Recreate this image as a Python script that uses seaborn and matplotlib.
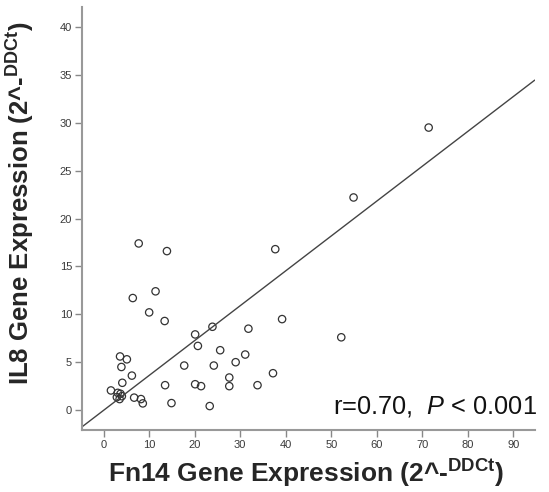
import matplotlib
matplotlib.use("Agg")
import matplotlib.pyplot as plt
import seaborn as sns
import numpy as np
import pandas as pd

# values
fn14 = [7.7, 13.9, 37.7, 11.4, 6.4, 10.0, 13.4, 39.2, 71.4, 54.9, 52.2,
        20.1, 23.9, 31.8, 20.7, 25.6, 31.1, 29.0, 17.7, 24.2, 37.2, 27.6,
        27.6, 33.8, 20.1, 21.4, 13.5, 14.9, 23.3, 3.6, 5.1, 3.9, 6.2, 4.1,
        1.6, 6.7, 8.2, 8.6, 3.1, 3.7, 2.9, 3.5, 4.0]
il8 = [17.4, 16.6, 16.8, 12.4, 11.7, 10.2, 9.3, 9.5, 29.5, 22.2, 7.6,
       7.9, 8.7, 8.5, 6.7, 6.25, 5.8, 5.0, 4.65, 4.65, 3.85, 3.4,
       2.5, 2.6, 2.7, 2.5, 2.6, 0.73, 0.42, 5.6, 5.3, 4.5, 3.6, 2.85,
       2.05, 1.3, 1.15, 0.7, 1.8, 1.7, 1.35, 1.15, 1.45]
# fit line as drawn in the reference (slope / intercept)
fit_slope = 0.364
fit_intercept = -0.02
x_ticks = [0, 10, 20, 30, 40, 50, 60, 70, 80, 90]
y_ticks = [0, 5, 10, 15, 20, 25, 30, 35, 40]
stat_text = r"r=0.70,  $P$ < 0.001"

df = pd.DataFrame({"Fn14": fn14, "IL8": il8})

sns.set_theme(style="ticks")
plt.rcParams["font.family"] = ["Liberation Sans", "DejaVu Sans"]
plt.rcParams["mathtext.fontset"] = "custom"
plt.rcParams["mathtext.rm"] = "Liberation Sans"
plt.rcParams["mathtext.it"] = "Liberation Sans:italic"
plt.rcParams["mathtext.bf"] = "Liberation Sans:bold"

fig = plt.figure(figsize=(5.49, 4.92), dpi=100)
ax = fig.add_axes([0.149, 0.126, 0.825, 0.86])

sns.scatterplot(data=df, x="Fn14", y="IL8", ax=ax, marker="o", s=28,
                facecolors="none", edgecolor="#333333", linewidth=0.9)
ax.axline((0, fit_intercept), slope=fit_slope, color="#444444", linewidth=1.0)

ax.set_xlim(-4.8, 94.7)
ax.set_ylim(-2.08, 42.1)
ax.set_xticks(x_ticks)
ax.set_yticks(y_ticks)
ax.tick_params(axis="both", direction="out", length=5, width=1, color="#888888",
               labelsize=8, labelcolor="#3a3a3a", pad=2)

for side in ["top", "right"]:
    ax.spines[side].set_visible(False)
for side in ["left", "bottom"]:
    ax.spines[side].set_color("#999999")
    ax.spines[side].set_linewidth(1.5)

ax.set_xlabel(r"Fn14 Gene Expression (2^-$^{\mathbf{DDCt}}$)", fontsize=19,
              fontweight="bold")
ax.set_ylabel(r"IL8 Gene Expression (2^-$^{\mathbf{DDCt}}$)", fontsize=18.5,
              fontweight="bold")
ax.xaxis.set_label_coords(0.494, -0.065)
ax.yaxis.set_label_coords(-0.100, 0.536)

ax.text(1.004, 0.040, stat_text, transform=ax.transAxes, ha="right", va="baseline",
        fontsize=18.3, color="#111111")

fig.savefig("out.png", dpi=100)
